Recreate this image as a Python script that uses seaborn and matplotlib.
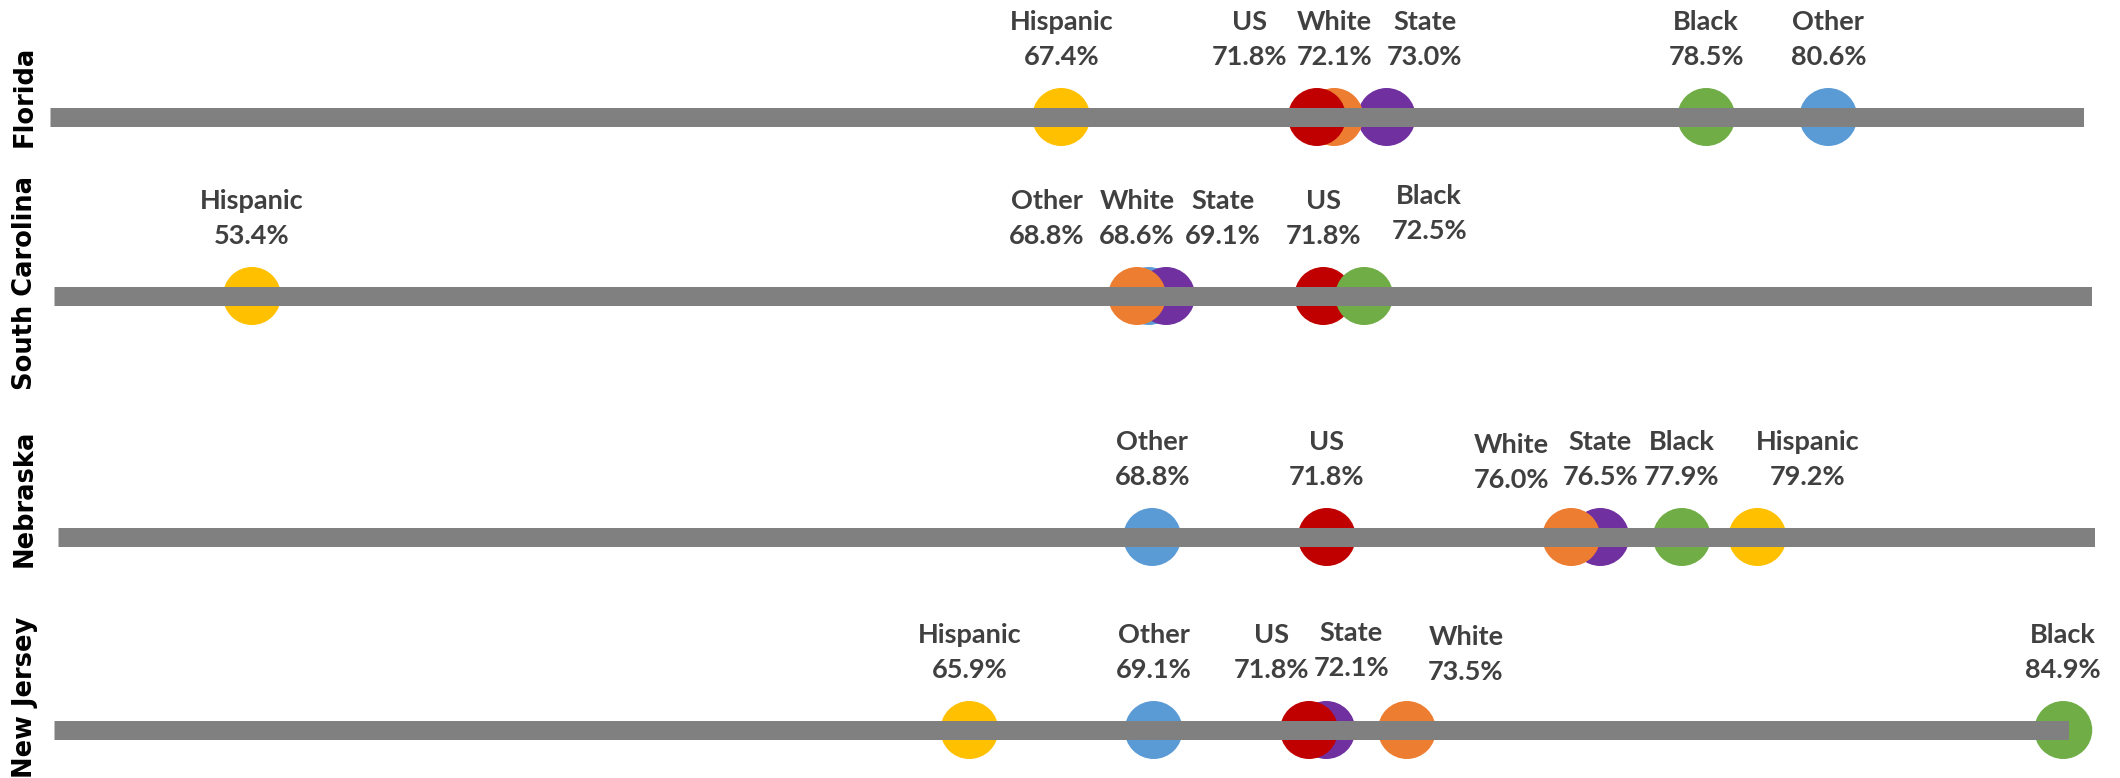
import matplotlib
matplotlib.use("Agg")
import matplotlib.pyplot as plt
import seaborn as sns
import pandas as pd

# data: graduation rate by group, one list per state (order matches groups)
states = ["Florida", "South Carolina", "Nebraska", "New Jersey"]
groups = ["Other", "State", "White", "US", "Black", "Hispanic"]  # bottom -> top draw order
florida = [80.6, 73.0, 72.1, 71.8, 78.5, 67.4]
south_carolina = [68.8, 69.1, 68.6, 71.8, 72.5, 53.4]
nebraska = [68.8, 76.5, 76.0, 71.8, 77.9, 79.2]
new_jersey = [69.1, 72.1, 73.5, 71.8, 84.9, 65.9]

palette = {"Other": "#5B9BD5", "State": "#7030A0", "White": "#ED7D31",
           "US": "#C00000", "Black": "#70AD47", "Hispanic": "#FFC000"}

rows = []
for st, vals in zip(states, [florida, south_carolina, nebraska, new_jersey]):
    for g, v in zip(groups, vals):
        rows.append({"state": st, "group": g, "value": v, "y": 0})
df = pd.DataFrame(rows)

sns.set_theme(style="white")
plt.rcParams["font.family"] = ["Lato", "DejaVu Sans"]

W, H, DPI = 2120, 778, 100
PT = 72 / DPI

# layout in pixels: line y, axis left, axis right, state label centre y
layout = {"Florida": (117, 50, 2084, 96),
          "South Carolina": (296, 54, 2092, 283),
          "Nebraska": (537, 58, 2095, 498),
          "New Jersey": (730, 54, 2069, 697)}

# manual label nudges (px) so the labels don't collide, like the original
nudge = {("Florida", "US"): (-67, 0), ("Florida", "State"): (38, 0),
         ("South Carolina", "Other"): (-102, 0), ("South Carolina", "State"): (57, 0),
         ("South Carolina", "Black"): (65, 5),
         ("Nebraska", "White"): (-60, -3), ("Nebraska", "Hispanic"): (50, 0),
         ("New Jersey", "US"): (-38, 0), ("New Jersey", "State"): (25, 2),
         ("New Jersey", "White"): (59, -2)}

fig = plt.figure(figsize=(W / DPI, H / DPI), dpi=DPI)
ax_h = 60
dot_d = 58

for st in states:
    ly, left, right, ty = layout[st]
    ax = fig.add_axes([left / W, 1 - (ly + ax_h / 2) / H, (right - left) / W, ax_h / H])
    sub = df[df["state"] == st]
    sns.scatterplot(data=sub, x="value", y="y", hue="group", palette=palette,
                    s=(dot_d * PT) ** 2, linewidth=0, legend=False, ax=ax,
                    zorder=2, clip_on=False)
    ax.axhline(0, color="#808080", lw=19 * PT, solid_capstyle="butt", zorder=3)
    ax.set_xlim(50, 85)
    ax.set_ylim(-1, 1)
    ax.axis("off")

    for _, r in sub.iterrows():
        dx, dy = nudge.get((st, r["group"]), (0, 0))
        ax.annotate(r["group"], (r["value"], 0), xytext=(dx * PT, (95 + dy) * PT),
                    textcoords="offset points", ha="center", va="center",
                    fontsize=19.5, fontweight="bold", color="#404040",
                    annotation_clip=False)
        ax.annotate(f"{r['value']:.1f}%", (r["value"], 0),
                    xytext=(dx * PT, (60 + dy) * PT),
                    textcoords="offset points", ha="center", va="center",
                    fontsize=19.5, fontweight="bold", color="#404040",
                    annotation_clip=False)

    fig.text(25 / W, 1 - ty / H, st, rotation=90, ha="center", va="center",
             fontsize=18.5, fontweight="bold", color="black", family="DejaVu Sans")

fig.savefig("out.png", dpi=DPI)
